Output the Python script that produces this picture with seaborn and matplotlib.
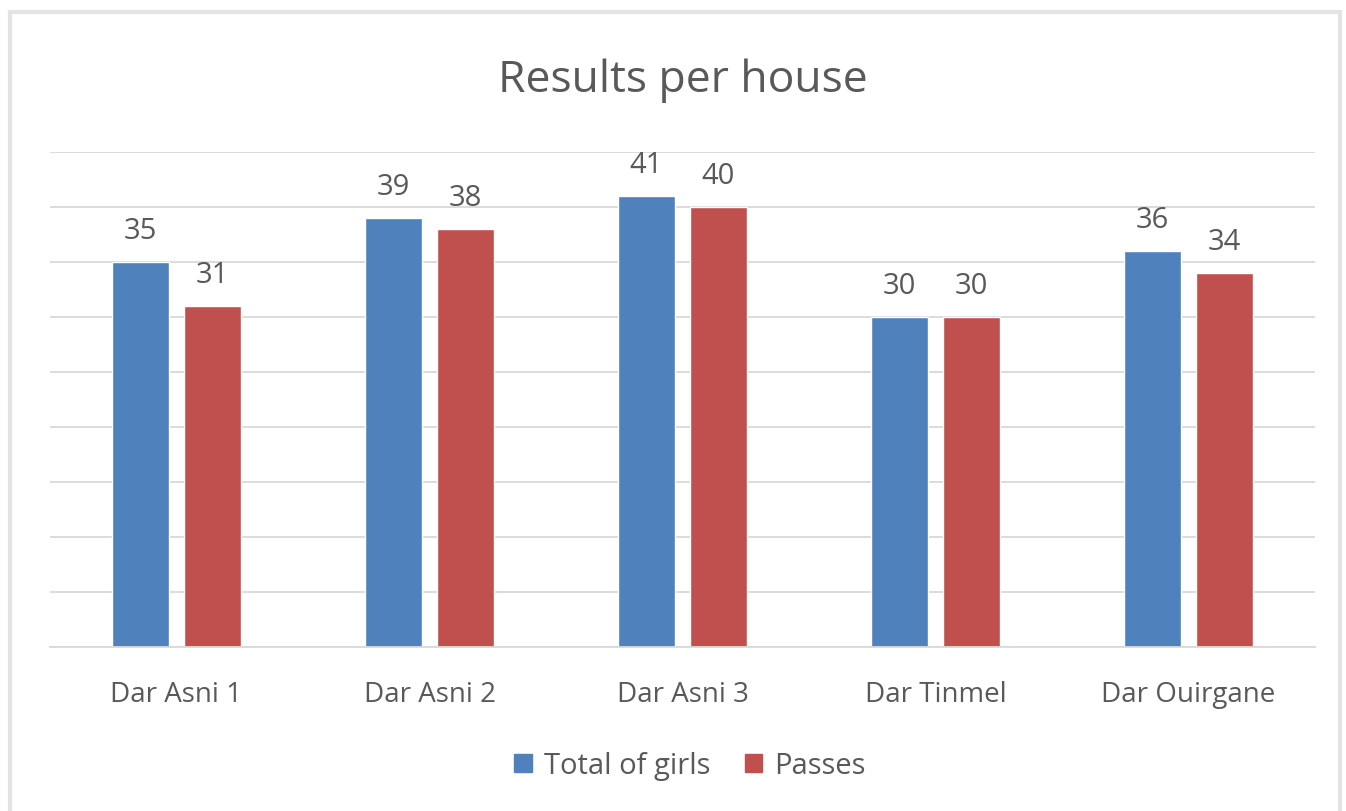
import pandas as pd
import matplotlib.pyplot as plt
import seaborn as sns
from matplotlib.patches import Rectangle

# Data
houses = ["Dar Asni 1", "Dar Asni 2", "Dar Asni 3", "Dar Tinmel", "Dar Ouirgane"]
total_girls = [35, 39, 41, 30, 36]
passes = [31, 38, 40, 30, 34]
series_names = ["Total of girls", "Passes"]
colors = ["#4F81BD", "#C0504D"]

df = pd.DataFrame({
    "House": houses * 2,
    "Series": [series_names[0]] * len(houses) + [series_names[1]] * len(houses),
    "Value": total_girls + passes,
})

sns.set_theme(style="white")
plt.rcParams["font.family"] = ["Open Sans", "DejaVu Sans"]
text_color = "#595959"
grid_color = "#D9D9D9"

fig = plt.figure(figsize=(13.46, 8.12), dpi=100)
ax = fig.add_axes([50 / 1346, 1 - 648 / 812, (1315 - 50) / 1346, (648 - 153) / 812])

sns.barplot(data=df, x="House", y="Value", hue="Series", palette=colors,
            saturation=1, width=0.57, gap=0.21, ax=ax, legend=False)

ax.set_ylim(0, 45)
ax.set_yticks(range(0, 46, 5))
ax.yaxis.grid(True, color=grid_color, linewidth=1.3)
ax.set_axisbelow(True)
ax.set_yticklabels([])
ax.tick_params(axis="both", length=0)
ax.tick_params(axis="x", labelsize=20, labelcolor=text_color, pad=24)
ax.set_xlabel("")
ax.set_ylabel("")
for s in ["top", "left", "right"]:
    ax.spines[s].set_visible(False)
ax.spines["bottom"].set_color(grid_color)
ax.spines["bottom"].set_linewidth(1.3)

for cont in ax.containers:
    ax.bar_label(cont, fmt="%d", padding=12, fontsize=21, color=text_color)

fig.text(683 / 1346, 1 - 92 / 812, "Results per house", ha="center", va="baseline",
         fontsize=32, color=text_color)

handles = [Rectangle((0, 0), 1, 1, color=c) for c in colors]
fig.legend(handles, series_names, loc="center", bbox_to_anchor=(690 / 1346, 1 - 767 / 812),
           ncol=2, frameon=False, fontsize=21, labelcolor=text_color,
           handlelength=0.6, handleheight=0.6, handletextpad=0.4, columnspacing=1.2)

# light chart border
fig.patches.append(Rectangle((10 / 1346, -0.02), 1330 / 1346, 1 - 13 / 812 + 0.02,
                             transform=fig.transFigure, fill=False,
                             edgecolor="#E3E3E3", linewidth=3))

fig.savefig("out.png", dpi=100)
